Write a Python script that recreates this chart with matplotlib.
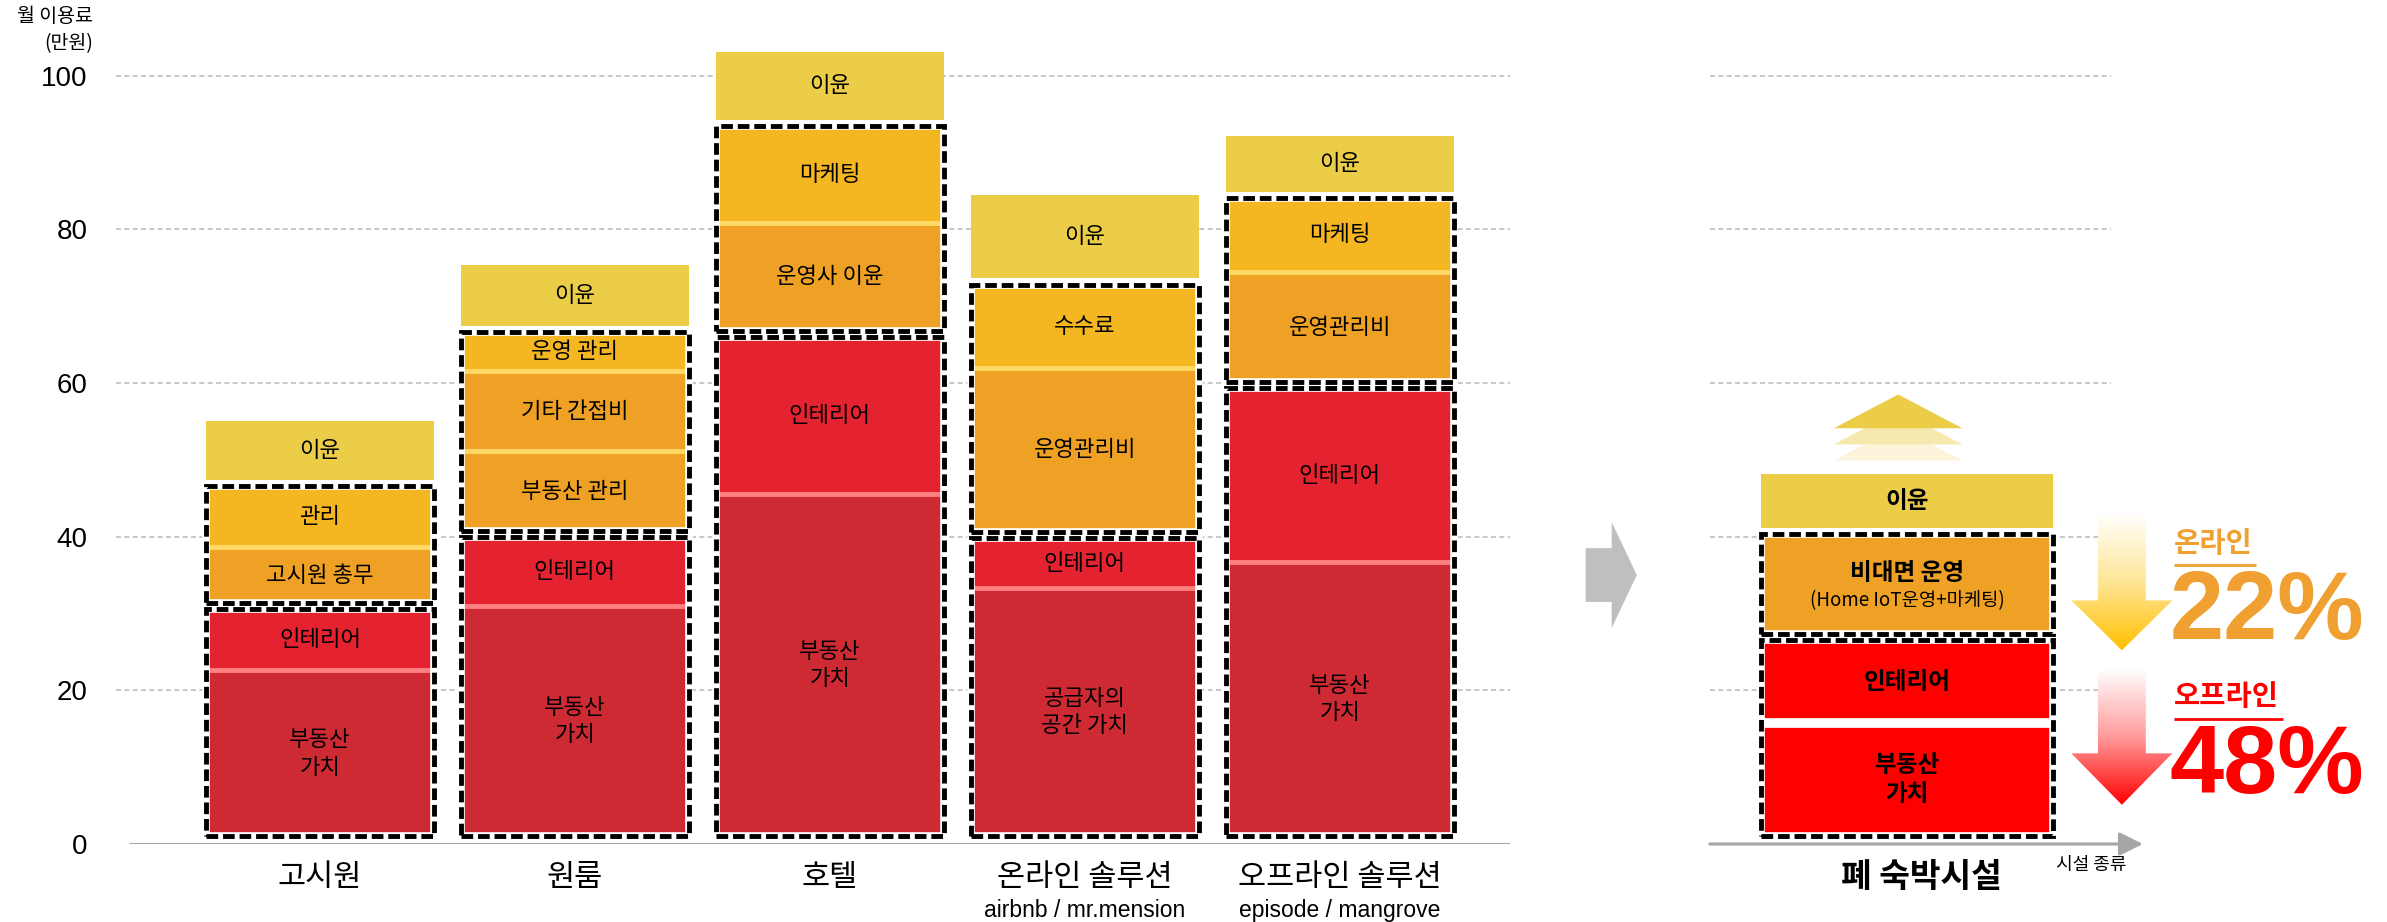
import numpy as np
import matplotlib
matplotlib.use('Agg')
from matplotlib import pyplot as plt
from matplotlib.patches import Rectangle, Polygon
from matplotlib.colors import LinearSegmentedColormap

plt.rcParams['font.family'] = ['Noto Sans CJK KR', 'DejaVu Sans']

categories = ['고시원', '원룸', '호텔', '온라인 솔루션', '오프라인 솔루션']
sub_labels = ['', '', '', 'airbnb / mr.mension', 'episode / mangrove']

# 공간 가치 (부동산 + 인테리어), 아래에서 위로
space_values = [[21.6, 8.0], [30.0, 8.9], [44.6, 20.4], [32.3, 6.5], [35.7, 22.6]]
space_labels = [['부동산\n가치', '인테리어'], ['부동산\n가치', '인테리어'], ['부동산\n가치', '인테리어'],
                ['공급자의\n공간 가치', '인테리어'], ['부동산\n가치', '인테리어']]
# 운영 비용
ops_values = [[7.2, 8.0], [10.4, 10.4, 5.1], [14.0, 12.6], [21.4, 10.8], [14.3, 9.7]]
ops_labels = [['고시원 총무', '관리'], ['부동산 관리', '기타 간접비', '운영 관리'],
              ['운영사 이윤', '마케팅'], ['운영관리비', '수수료'], ['운영관리비', '마케팅']]
profit_values = [7.6, 7.9, 8.9, 10.9, 7.2]

# 폐 숙박시설
new_space_values = [14.7, 10.8]
new_space_labels = ['부동산\n가치', '인테리어']
new_ops_value = 13.0
new_profit_value = 7.0
online_pct = 22
offline_pct = 48

yticks = [0, 20, 40, 60, 80, 100]

BASE = 1.0
GAP = 0.8
C_PROFIT = '#EBCD48'
C_OPS = ['#EFA125', '#F5B721']
C_SPACE = ['#CD2A34', '#E52330']
GRID_C = '#BDBDBD'
AXIS_C = '#A6A6A6'


def dashed_box(ax, x, w, y0, y1):
    ax.add_patch(Rectangle((x - w / 2, y0), w, y1 - y0, fill=False, ec='white', lw=5.5, zorder=4))
    ax.add_patch(Rectangle((x - w / 2, y0), w, y1 - y0, fill=False, ec='black', lw=3.5,
                           ls=(0, (2.4, 1.0)), zorder=5))


def draw_group(ax, x, w, vals, colors, labels, bottom, sep_color, sep_lw=3.5, fs=16, weight='normal'):
    b = bottom
    for i, (v, c, lab) in enumerate(zip(vals, colors, labels)):
        ax.bar(x, v, w, bottom=b, color=c, zorder=2)
        if lab:
            ax.text(x, b + v / 2, lab, ha='center', va='center', fontsize=fs, weight=weight,
                    zorder=6, linespacing=1.25)
        if i > 0:
            ax.hlines(b, x - w / 2, x + w / 2, color=sep_color, lw=sep_lw, zorder=3)
        b += v
    return b


fig = plt.figure(figsize=(23.87, 9.22), dpi=100)
ax = fig.add_axes([107 / 2387, 78 / 922, 1403 / 2387, 806.9 / 922])
ax2 = fig.add_axes([1560 / 2387, 78 / 922, 827 / 2387, 806.9 / 922])

# ---- 왼쪽: 기존 숙박시설 ----
w = 0.894
for i in range(len(categories)):
    top = draw_group(ax, i, w, space_values[i], C_SPACE, space_labels[i], BASE, '#FF8080')
    dashed_box(ax, i, w, BASE, top)
    b = top + GAP
    ops_cols = [C_OPS[0]] * (len(ops_values[i]) - 1) + [C_OPS[1]]
    top = draw_group(ax, i, w, ops_values[i], ops_cols, ops_labels[i], b, '#FFD966')
    dashed_box(ax, i, w, b, top)
    b = top + GAP
    ax.bar(i, profit_values[i], w, bottom=b, color=C_PROFIT, zorder=2)
    ax.text(i, b + profit_values[i] / 2, '이윤', ha='center', va='center', fontsize=16, zorder=6)
    ax.text(i, -4.4, categories[i], ha='center', va='center', fontsize=22)
    if sub_labels[i]:
        ax.text(i, -8.7, sub_labels[i], ha='center', va='center', fontsize=16.5, family='Liberation Sans')

ax.set_xlim(-0.835, 4.667)
ax.set_ylim(0, 105)
ax.hlines(yticks[1:], -0.80, 4.667, color=GRID_C, lw=1.2, ls=(0, (3, 2)), zorder=1)
ax.hlines(0, -0.75, 4.667, color=AXIS_C, lw=2.2, zorder=1)
for s in ax.spines.values():
    s.set_visible(False)
ax.set_xticks([])
ax.set_yticks(yticks, labels=[str(t) for t in yticks], fontsize=20, fontfamily='Liberation Sans')
ax.tick_params(axis='y', length=0, pad=14)
fig.text(93 / 2387, 1 - 16 / 922, '월 이용료', ha='right', va='center', fontsize=14)
fig.text(93 / 2387, 1 - 44 / 922, '(만원)', ha='right', va='center', fontsize=14)

# ---- 오른쪽: 폐 숙박시설 ----
ax2.hlines(yticks[1:], -0.675, 0.699, color=GRID_C, lw=1.2, ls=(0, (3, 2)), zorder=1)
ax2.annotate('', xy=(0.808, 0), xytext=(-0.675, 0), annotation_clip=False,
             arrowprops=dict(arrowstyle='-|>,head_length=0.9,head_width=0.45', color=AXIS_C,
                             lw=2.2, shrinkA=0, shrinkB=0, mutation_scale=16))

top = draw_group(ax2, 0, 1, new_space_values, ['#FF0000', '#FF0000'], new_space_labels, BASE,
                 'white', sep_lw=7, fs=17, weight='bold')
dashed_box(ax2, 0, 1, BASE, top)
b = top + GAP
ax2.bar(0, new_ops_value, 1, bottom=b, color=C_OPS[0], zorder=2)
ax2.text(0, b + new_ops_value / 2 + 1.5, '비대면 운영', ha='center', va='center', fontsize=17,
         weight='bold', zorder=6)
ax2.text(0, b + new_ops_value / 2 - 2.1, '(Home IoT운영+마케팅)', ha='center', va='center',
         fontsize=13.5, zorder=6)
dashed_box(ax2, 0, 1, b, b + new_ops_value)
b = b + new_ops_value + GAP
ax2.bar(0, new_profit_value, 1, bottom=b, color=C_PROFIT, zorder=2)
ax2.text(0, b + new_profit_value / 2, '이윤', ha='center', va='center', fontsize=17, weight='bold', zorder=6)
top = b + new_profit_value

# 위쪽 화살표 (이윤 증가)
for k, c in enumerate(['#FBF3DA', '#F7E8AE', C_PROFIT]):
    yb = top + 1.8 + k * 2.1
    ax2.add_patch(Polygon([[-0.25, yb], [0.19, yb], [-0.03, yb + 4.4]], closed=True, color=c, lw=0, zorder=2))

# 회색 화살표
ax2.add_patch(Polygon([[-1.100, 31.5], [-1.011, 31.5], [-1.011, 28.1], [-0.925, 35.0],
                       [-1.011, 41.9], [-1.011, 38.5], [-1.100, 38.5]], closed=True,
                      color='#BFBFBF', lw=0))


def grad_arrow(ax, xc, y_top, y_head, y_tip, colors):
    sw, hw = 0.082, 0.173
    pts = [[xc - sw, y_top], [xc + sw, y_top], [xc + sw, y_head], [xc + hw, y_head],
           [xc, y_tip], [xc - hw, y_head], [xc - sw, y_head]]
    poly = Polygon(pts, closed=True, transform=ax.transData, fc='none', ec='none')
    ax.add_patch(poly)
    cmap = LinearSegmentedColormap.from_list('g', colors)
    im = ax.imshow(np.linspace(0, 1, 256).reshape(-1, 1), cmap=cmap, aspect='auto', origin='upper',
                   extent=[xc - hw, xc + hw, y_tip, y_top], zorder=2)
    im.set_clip_path(poly)


grad_arrow(ax2, 0.736, 43.1, 31.7, 25.2, ['#FFFFFF', '#FFE699', '#FFC000'])
grad_arrow(ax2, 0.736, 22.7, 11.8, 5.1, ['#FFFFFF', '#FF9A9A', '#FF0000'])

ORANGE_T = '#F0A030'
ax2.text(0.915, 39.1, '온라인', ha='left', va='center', fontsize=20.5, color=ORANGE_T, weight='bold')
ax2.hlines(36.3, 0.915, 1.195, color=ORANGE_T, lw=2)
ax2.text(0.90, 26.7, f'{online_pct}%', ha='left', va='baseline', fontsize=70, color=ORANGE_T,
         weight='bold', family='Liberation Sans')
ax2.text(0.915, 19.1, '오프라인', ha='left', va='center', fontsize=20.5, color='#FF0000', weight='bold')
ax2.hlines(16.3, 0.915, 1.288, color='#FF0000', lw=2)
ax2.text(0.90, 6.6, f'{offline_pct}%', ha='left', va='baseline', fontsize=70, color='#FF0000',
         weight='bold', family='Liberation Sans')

ax2.text(0.05, -4.3, '폐 숙박시설', ha='center', va='center', fontsize=24, weight='bold')
ax2.text(0.632, -2.7, '시설 종류', ha='center', va='center', fontsize=13)

ax2.set_xlim(-1.188, 1.644)
ax2.set_ylim(0, 105)
ax2.axis('off')

fig.savefig('out.png', dpi=100)
